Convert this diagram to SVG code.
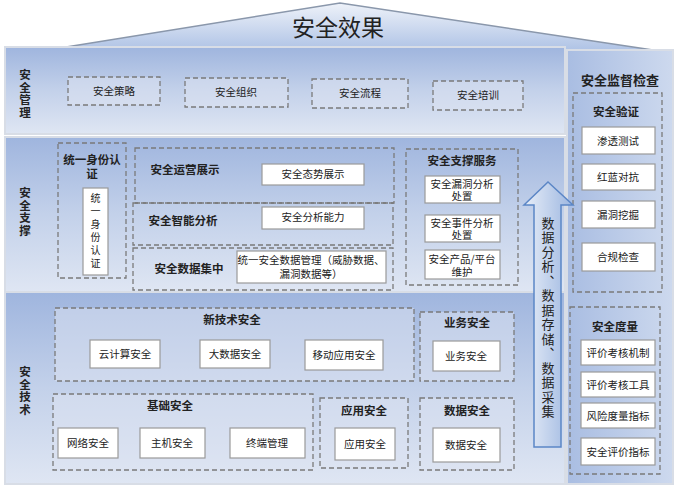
<svg xmlns="http://www.w3.org/2000/svg" width="677" height="489" viewBox="0 0 677 489">
<defs>
<linearGradient id="band" x1="0" y1="0" x2="0" y2="1"><stop offset="0" stop-color="#9fb5de"/><stop offset="0.5" stop-color="#c3d1ea"/><stop offset="1" stop-color="#dfe6f3"/></linearGradient>
<linearGradient id="roof" x1="0" y1="0" x2="0" y2="1"><stop offset="0" stop-color="#eef2f9"/><stop offset="1" stop-color="#a7bde3"/></linearGradient>
<linearGradient id="col" x1="0" y1="0" x2="1" y2="0"><stop offset="0" stop-color="#a9bde2"/><stop offset="1" stop-color="#cdd9ee"/></linearGradient>
<linearGradient id="arr" x1="0" y1="0" x2="1" y2="0"><stop offset="0" stop-color="#e8eef8"/><stop offset="1" stop-color="#9cb6e0"/></linearGradient>
<style>
text{font-family:"Noto Sans CJK SC","Liberation Sans",sans-serif;fill:#222;text-anchor:middle}
.vt{writing-mode:vertical-rl;text-anchor:middle}
.band{fill:url(#band);stroke:#d8dde6;stroke-width:2}
.dash{fill:none;stroke:#7a7a7a;stroke-width:1.3;stroke-dasharray:5,3}
.dfill{fill:#dde4f1;fill-opacity:0.5;stroke:#7a7a7a;stroke-width:1.3;stroke-dasharray:5,3}
.box{fill:#fff;stroke:#9a9a9a;stroke-width:1.2}
.s{font-size:10.5px}
.b{font-size:11.5px;font-weight:bold}
.lab{font-size:11.5px;font-weight:bold}
</style>
</defs>
<rect width="677" height="489" fill="#fff"/>
<g id="roof"><polygon points="10,56 340,3 673,53" fill="url(#roof)" stroke="#8a97ab" stroke-width="1.5"/><text x="338" y="36" style="font-size:23px">安全效果</text></g>
<g id="mgmt">
<rect class="band" x="5" y="47" width="560" height="87"/>
<text class="lab vt" x="25" y="94" style="letter-spacing:1px">安全管理</text>
<rect class="dfill" x="68" y="77" width="92" height="28"/><text class="s" x="114" y="95">安全策略</text>
<rect class="dfill" x="185" y="78" width="103" height="29"/><text class="s" x="236" y="96">安全组织</text>
<rect class="dfill" x="312" y="79" width="96" height="29"/><text class="s" x="360" y="97">安全流程</text>
<rect class="dfill" x="433" y="81" width="90" height="29"/><text class="s" x="478" y="99">安全培训</text>
</g>
<g id="support">
<rect class="band" x="5" y="137" width="560" height="155"/>
<text class="lab vt" x="25" y="212" style="letter-spacing:1px">安全支撑</text>
<rect class="dash" x="58" y="143" width="68" height="135"/>
<text class="b" x="92" y="164">统一身份认</text><text class="b" x="92" y="178">证</text>
<rect class="box" x="83" y="188" width="25" height="87"/>
<text class="vt" x="95.5" y="232" style="font-size:10px;letter-spacing:3px">统一身份认证</text>
<rect class="dash" x="135" y="148" width="259" height="55"/><text class="b" x="185" y="174">安全运营展示</text>
<rect class="box" x="262" y="164" width="102" height="21"/><text class="s" x="313" y="178">安全态势展示</text>
<rect class="dash" x="133" y="203" width="260" height="42"/><text class="b" x="183" y="225">安全智能分析</text>
<rect class="box" x="262" y="207" width="102" height="22"/><text class="s" x="313" y="221">安全分析能力</text>
<rect class="dash" x="133" y="248" width="260" height="42"/><text class="b" x="189" y="273">安全数据集中</text>
<rect class="box" x="237" y="251" width="149" height="32"/><text class="s" x="311" y="264">统一安全数据管理（威胁数据、</text><text class="s" x="311" y="278">漏洞数据等）</text>
<rect class="dash" x="406" y="149" width="112" height="136"/><text class="b" x="462" y="165">安全支撑服务</text>
<rect class="box" x="425" y="176" width="75" height="27"/><text class="s" x="462" y="188">安全漏洞分析</text><text class="s" x="462" y="200">处置</text>
<rect class="box" x="425" y="215" width="75" height="27"/><text class="s" x="462" y="227">安全事件分析</text><text class="s" x="462" y="239">处置</text>
<rect class="box" x="425" y="250" width="75" height="29"/><text class="s" x="462" y="263">安全产品/平台</text><text class="s" x="462" y="276">维护</text>
</g>
<g id="tech">
<rect class="band" x="5" y="292" width="560" height="192"/>
<text class="lab vt" x="25" y="391" style="letter-spacing:1px">安全技术</text>
<rect class="dfill" x="55" y="308" width="359" height="73"/><text class="b" x="232" y="324">新技术安全</text>
<rect class="box" x="90" y="340" width="70" height="28"/><text class="s" x="125" y="358">云计算安全</text>
<rect class="box" x="200" y="340" width="70" height="28"/><text class="s" x="235" y="358">大数据安全</text>
<rect class="box" x="305" y="340" width="78" height="30"/><text class="s" x="344" y="359">移动应用安全</text>
<rect class="dfill" x="420" y="312" width="94" height="69"/><text class="b" x="467" y="327">业务安全</text>
<rect class="box" x="433" y="341" width="67" height="30"/><text class="s" x="466" y="360">业务安全</text>
<rect class="dfill" x="53" y="394" width="260" height="76"/><text class="b" x="170" y="410">基础安全</text>
<rect class="box" x="58" y="428" width="60" height="30"/><text class="s" x="88" y="447">网络安全</text>
<rect class="box" x="140" y="428" width="65" height="30"/><text class="s" x="172" y="447">主机安全</text>
<rect class="box" x="230" y="428" width="75" height="30"/><text class="s" x="267" y="447">终端管理</text>
<rect class="dfill" x="320" y="398" width="88" height="70"/><text class="b" x="364" y="415">应用安全</text>
<rect class="box" x="335" y="428" width="60" height="32"/><text class="s" x="365" y="448">应用安全</text>
<rect class="dfill" x="420" y="398" width="94" height="72"/><text class="b" x="467" y="415">数据安全</text>
<rect class="box" x="433" y="428" width="67" height="34"/><text class="s" x="466" y="449">数据安全</text>
</g>
<g id="monitor">
<rect x="567" y="50" width="106" height="434" fill="url(#col)" stroke="#d8dde6" stroke-width="2"/>
<text x="620" y="85" style="font-size:13px;font-weight:bold">安全监督检查</text>
<rect class="dash" x="573" y="93" width="89" height="199"/><text class="b" x="616" y="116">安全验证</text>
<rect class="box" x="582" y="127" width="73" height="27"/><text class="s" x="618" y="145">渗透测试</text>
<rect class="box" x="582" y="164" width="73" height="26"/><text class="s" x="618" y="181">红蓝对抗</text>
<rect class="box" x="582" y="201" width="73" height="27"/><text class="s" x="618" y="219">漏洞挖掘</text>
<rect class="box" x="582" y="243" width="73" height="28"/><text class="s" x="618" y="261">合规检查</text>
<rect class="dash" x="570" y="307" width="90" height="167"/><text class="b" x="615" y="331">安全度量</text>
<rect class="box" x="581" y="340" width="74" height="25"/><text class="s" x="618" y="357">评价考核机制</text>
<rect class="box" x="581" y="372" width="74" height="25"/><text class="s" x="618" y="389">评价考核工具</text>
<rect class="box" x="581" y="403" width="74" height="25"/><text class="s" x="618" y="420">风险度量指标</text>
<rect class="box" x="581" y="438" width="74" height="27"/><text class="s" x="618" y="456">安全评价指标</text>
</g>
<g id="connectors">
<polygon points="548,182 573,205 561,205 561,447 534,447 534,205 524,205" fill="url(#arr)" stroke="#5b86c6" stroke-width="1.5"/>
<text class="vt" x="548" y="318" style="font-size:13px;letter-spacing:1.5px">数据分析、数据存储、数据采集</text>
</g>
</svg>
